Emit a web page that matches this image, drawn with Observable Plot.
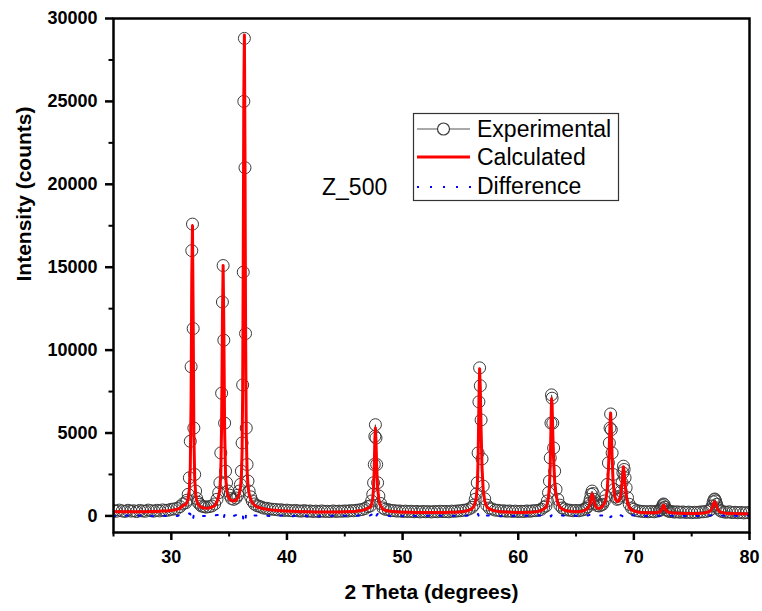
<!DOCTYPE html>
<html>
<head>
<meta charset="utf-8">
<script src="https://cdn.jsdelivr.net/npm/d3@7"></script>
<script src="https://cdn.jsdelivr.net/npm/@observablehq/plot@0.6"></script>
<style>
  html, body { margin: 0; padding: 0; background: #ffffff; }
  #chart { width: 762px; height: 611px; }
</style>
</head>
<body>
<div id="chart"></div>
<script>
// ---- Data ----
const twoTheta = [
  25,25.25,25.5,25.75,26,26.25,26.5,26.75,27,27.25,27.5,27.75,28,28.25,28.5,28.75,29,29.25,29.5,29.75,30,30.25,30.5,30.75,31.0,
  31.26,31.36,31.46,31.56,31.64,31.71,31.77,31.83,31.89,31.95,32.02,32.1,32.2,32.31,32.46,
  32.6,32.8,33.0,33.25,33.5,33.75,33.95,
  34.1,34.2,34.28,34.35,34.42,34.48,34.54,34.61,34.69,34.78,34.9,35.05,
  35.2,35.4,35.6,35.75,35.88,
  35.98,36.06,36.12,36.17,36.22,36.27,36.32,36.37,36.42,36.48,36.55,36.63,36.73,36.86,37.0,37.18,37.4,
  37.6,37.8,38,38.25,38.5,38.75,39,39.25,39.5,39.75,40,40.25,40.5,40.75,41,41.25,41.5,41.75,42,42.25,42.5,42.75,43,43.25,43.5,43.75,44,44.25,44.5,44.75,45,45.25,45.5,45.75,46,46.25,46.5,46.75,47.0,
  47.2,47.32,47.42,47.49,47.55,47.6,47.65,47.7,47.76,47.84,47.95,48.1,48.3,
  48.5,48.75,49,49.25,49.5,49.75,50,50.25,50.5,50.75,51,51.25,51.5,51.75,52,52.25,52.5,52.75,53,53.25,53.5,53.75,54,54.25,54.5,54.75,55,55.25,55.5,55.75,56.0,
  56.15,56.28,56.38,56.46,56.53,56.6,56.66,56.72,56.79,56.87,56.97,57.1,57.28,
  57.5,57.75,58,58.25,58.5,58.75,59,59.25,59.5,59.75,60,60.25,60.5,60.75,61,61.25,61.5,61.75,62.0,62.2,
  62.4,62.52,62.62,62.7,62.77,62.83,62.88,62.93,62.99,63.06,63.15,63.27,63.42,63.6,
  63.8,64.0,64.25,64.5,64.75,65.0,65.25,65.5,65.7,65.85,
  66.0,66.12,66.22,66.3,66.39,66.48,66.58,66.7,66.84,67.0,67.15,
  67.3,67.45,67.58,67.7,67.8,67.88,67.94,67.99,68.05,68.12,68.2,68.3,68.42,68.55,68.68,68.8,68.9,68.98,69.05,69.1,69.16,69.24,69.33,69.45,69.6,69.8,70.0,
  70.25,70.5,70.75,71.0,71.25,71.5,71.75,72.0,72.2,
  72.32,72.42,72.5,72.56,72.62,72.7,72.8,72.95,73.1,
  73.3,73.5,73.75,74,74.25,74.5,74.75,75,75.25,75.5,75.75,76.0,76.25,76.5,
  76.65,76.76,76.86,76.94,77.0,77.07,77.16,77.28,77.42,77.6,
  77.8,78.0,78.25,78.5,78.75,79.0,79.25,79.5,79.75,80.0
];

const experimental = [
  330,280,350,300,270,340,290,310,260,330,300,280,350,310,290,340,300,360,330,350,400,420,450,560,720,
  800,950,1300,2300,4500,9000,16000,17600,11300,5300,2500,1500,1050,820,700,
  600,560,530,560,600,720,1000,
  1400,2000,3800,7400,12900,15100,10600,5600,2700,2000,1500,1250,
  1050,1000,1080,1250,1500,
  1900,2700,4400,7900,14700,25000,28800,21000,11000,5300,3100,2100,1500,1150,900,720,620,
  580,530,470,460,420,400,390,360,370,330,350,320,310,330,300,290,320,280,300,270,290,260,300,270,280,260,300,270,290,280,300,290,320,310,340,360,390,450,560,
  600,900,1300,2000,3100,4800,5500,4700,3100,2000,1200,750,480,
  400,380,330,320,290,300,270,290,260,280,250,270,240,270,250,260,240,270,250,280,260,270,250,290,280,300,310,340,360,420,520,
  650,1000,1330,2000,3800,6880,8930,7850,5790,3440,1800,1030,650,
  480,420,350,340,300,310,280,300,270,290,260,280,270,300,280,310,320,340,400,520,
  600,900,1400,2100,3500,5600,7300,7100,5600,4100,2700,1600,1000,650,
  480,420,360,340,310,330,310,350,390,460,
  550,750,1000,1300,1500,1350,1000,750,620,600,650,
  700,900,1200,1900,3200,4400,5300,6150,5200,3800,2500,1600,1150,1000,1050,1200,1500,2000,2600,3000,2800,2300,1700,1100,700,480,400,
  320,290,270,260,250,270,250,290,310,
  380,480,620,720,680,520,380,300,270,
  260,230,250,220,240,210,230,200,220,210,240,250,270,320,
  400,600,850,980,1020,900,700,480,350,270,
  240,220,250,200,220,190,210,180,200,190
];

const calculated = [
  260,258,255,255,252,252,250,250,250,250,252,255,258,262,266,272,280,290,300,315,335,360,400,470,620,
  700,820,1050,1600,2900,7000,14500,17500,12000,5000,2300,1350,900,700,580,
  520,480,470,480,520,620,850,
  1200,1600,2600,5500,11800,15100,11500,5200,2500,1600,1200,1000,
  930,900,950,1100,1350,
  1700,2400,3900,7500,15500,25500,29000,22000,11500,5000,2800,1800,1300,1000,800,650,550,
  500,460,430,400,375,355,340,325,310,300,290,282,275,268,262,257,252,248,245,242,240,238,236,235,234,234,235,236,238,242,246,252,260,270,285,305,335,380,470,
  520,700,1050,1700,2900,4600,5300,4500,3000,1700,950,600,400,
  340,300,275,258,245,235,228,222,218,214,211,208,206,204,203,202,202,203,204,206,208,211,215,220,227,236,250,270,300,350,440,
  560,800,1150,1800,3400,6900,8870,7700,5200,2900,1600,900,550,
  420,350,305,275,255,240,230,222,216,212,210,210,212,216,222,232,248,275,330,420,
  520,760,1150,1800,3100,5300,7060,6700,5000,3400,2100,1250,780,520,
  420,350,300,275,262,258,262,280,320,380,
  450,580,800,1100,1330,1100,780,560,470,450,500,
  600,760,1000,1600,2800,4300,5600,6200,5300,3500,2100,1350,980,870,900,1050,1400,2000,2700,2960,2650,1950,1300,820,520,360,300,
  250,220,205,195,190,190,195,210,240,
  300,400,560,660,600,430,300,230,200,
  185,175,165,158,152,148,145,145,148,152,160,175,200,250,
  330,470,680,820,850,750,540,360,260,210,
  180,165,152,143,137,132,128,125,122,120
];

const difference = [
  20,-30,40,0,-20,40,-10,10,-40,30,0,-20,40,0,-20,20,-30,20,0,-10,10,20,-10,40,50,
  30,60,100,150,120,-100,80,50,-150,100,80,50,40,30,20,
  20,-10,10,0,-20,30,50,
  50,100,150,200,120,-50,-100,100,50,100,80,60,
  30,0,50,60,100,
  100,150,200,100,-200,-100,0,-250,-150,150,100,100,80,50,50,30,30,
  30,-20,10,20,-10,0,20,-20,30,-10,20,0,-20,30,0,-10,30,-20,10,-20,20,-30,20,-10,0,-20,20,-10,10,-10,10,0,20,0,10,20,10,30,40,
  30,80,100,120,50,-50,80,-50,40,120,100,60,30,
  20,10,-20,10,-10,20,-20,10,-20,20,-10,10,-20,20,0,10,-20,10,0,20,-10,10,-10,20,0,10,0,20,10,30,30,
  30,80,60,60,120,-60,0,50,100,120,60,50,30,
  20,10,-10,20,-10,10,-20,20,-10,10,-20,10,0,20,-10,10,0,20,20,30,
  20,40,60,80,50,-30,30,80,100,120,100,60,40,20,
  20,10,-10,20,-10,20,0,20,10,30,
  20,50,60,60,40,80,70,50,30,30,20,
  30,50,60,100,120,30,-100,-30,-50,100,120,80,60,50,50,50,30,0,-30,10,50,100,120,80,60,40,30,
  10,-10,20,-10,10,0,-20,20,10,
  20,30,40,50,60,60,40,20,10,
  10,-20,20,-10,10,-20,10,-20,10,-10,20,10,20,30,
  30,60,80,80,80,60,60,50,30,20,
  10,-20,20,-10,10,-20,10,-10,10,0
];

const xTicks = [30, 40, 50, 60, 70, 80];
const xMinorTicks = [25, 35, 45, 55, 65, 75];
const yTicks = [0, 5000, 10000, 15000, 20000, 25000, 30000];
const yMinorTicks = [2500, 7500, 12500, 17500, 22500, 27500];
const seriesNames = ["Experimental", "Calculated", "Difference"];
const sampleLabel = "Z_500";
const xTitle = "2 Theta (degrees)";
const yTitle = "Intensity (counts)";

// ---- Build table ----
const n = Math.min(twoTheta.length, experimental.length, calculated.length, difference.length);
if (n !== twoTheta.length || n !== experimental.length || n !== calculated.length || n !== difference.length) {
  console.warn("length mismatch", twoTheta.length, experimental.length, calculated.length, difference.length);
}
const rows = d3.range(n).map(i => ({t: twoTheta[i], exp: experimental[i], calc: calculated[i], diff: difference[i]}));

const FONT = "'Liberation Sans', Arial, Helvetica, sans-serif";
const EXP_STROKE = "#3a3a3a";
const CALC_COLOR = "#ff0000";
const DIFF_COLOR = "#0000ff";

const svg = Plot.plot({
  width: 762,
  height: 611,
  marginLeft: 113,
  marginRight: 13,
  marginTop: 18,
  marginBottom: 79,
  style: {fontFamily: FONT, background: "#ffffff", overflow: "visible"},
  x: {domain: [25, 80], label: null},
  y: {domain: [-1000, 30000], label: null},
  marks: [
    Plot.line(rows, {x: "t", y: "exp", stroke: "#555555", strokeWidth: 1, clip: true}),
    Plot.dot(rows, {x: "t", y: "exp", r: 6, stroke: EXP_STROKE, strokeWidth: 1, fill: "none", clip: true}),
    Plot.line(rows, {x: "t", y: "calc", stroke: CALC_COLOR, strokeWidth: 3, clip: true}),
    Plot.line(rows, {x: "t", y: "diff", stroke: DIFF_COLOR, strokeWidth: 2, strokeDasharray: "2,11", clip: true}),
    Plot.frame({stroke: "#000000", strokeWidth: 2.5}),
    Plot.axisX({ticks: xTicks, tickSize: 8, tickPadding: 10, strokeWidth: 2.5, fontSize: 18, fontWeight: "bold", label: null, tickFormat: d => String(d)}),
    Plot.axisX({ticks: xMinorTicks, tickSize: 4.5, strokeWidth: 2, label: null, tickFormat: () => ""}),
    Plot.axisY({ticks: yTicks, tickSize: 8, tickPadding: 8, strokeWidth: 2.5, fontSize: 18, fontWeight: "bold", label: null, tickFormat: d => String(d)}),
    Plot.axisY({ticks: yMinorTicks, tickSize: 4.5, strokeWidth: 2, label: null, tickFormat: () => ""}),
    Plot.text([xTitle], {text: d => d, frameAnchor: "bottom", dy: 60, fontSize: 21, fontWeight: "bold", lineAnchor: "middle", fill: "#000"}),
    Plot.text([yTitle], {text: d => d, frameAnchor: "left", rotate: -90, dx: -89, dy: 6, fontSize: 21, fontWeight: "bold", lineAnchor: "middle", fill: "#000"})
  ]
});

// ---- Annotation and legend ----
const s = d3.select(svg);
s.append("text")
  .attr("x", 322).attr("y", 195)
  .attr("text-anchor", "start")
  .attr("font-family", FONT).attr("font-size", 23).attr("font-weight", "normal")
  .attr("fill", "#000").text(sampleLabel);

const lg = s.append("g").attr("text-anchor", "start");
lg.append("rect").attr("x", 413.5).attr("y", 113.5).attr("width", 205).attr("height", 87)
  .attr("fill", "#ffffff").attr("stroke", "#333333").attr("stroke-width", 1.2);
const rowY = [129, 157, 187];
const baseY = [137, 165, 194];
// Experimental sample
lg.append("line").attr("x1", 417).attr("x2", 470).attr("y1", rowY[0]).attr("y2", rowY[0])
  .attr("stroke", "#555555").attr("stroke-width", 1.2);
lg.append("circle").attr("cx", 443.5).attr("cy", rowY[0]).attr("r", 6)
  .attr("fill", "#ffffff").attr("stroke", EXP_STROKE).attr("stroke-width", 1.2);
// Calculated sample
lg.append("line").attr("x1", 417).attr("x2", 470).attr("y1", rowY[1]).attr("y2", rowY[1])
  .attr("stroke", CALC_COLOR).attr("stroke-width", 3);
// Difference sample
lg.append("line").attr("x1", 417).attr("x2", 472).attr("y1", rowY[2]).attr("y2", rowY[2])
  .attr("stroke", DIFF_COLOR).attr("stroke-width", 2).attr("stroke-dasharray", "2,11");
seriesNames.forEach((name, i) => {
  lg.append("text").attr("x", 477).attr("y", baseY[i])
    .attr("text-anchor", "start")
    .attr("font-family", FONT).attr("font-size", 23).attr("font-weight", "normal")
    .attr("fill", "#000").text(name);
});

document.getElementById("chart").appendChild(svg);
</script>
</body>
</html>
